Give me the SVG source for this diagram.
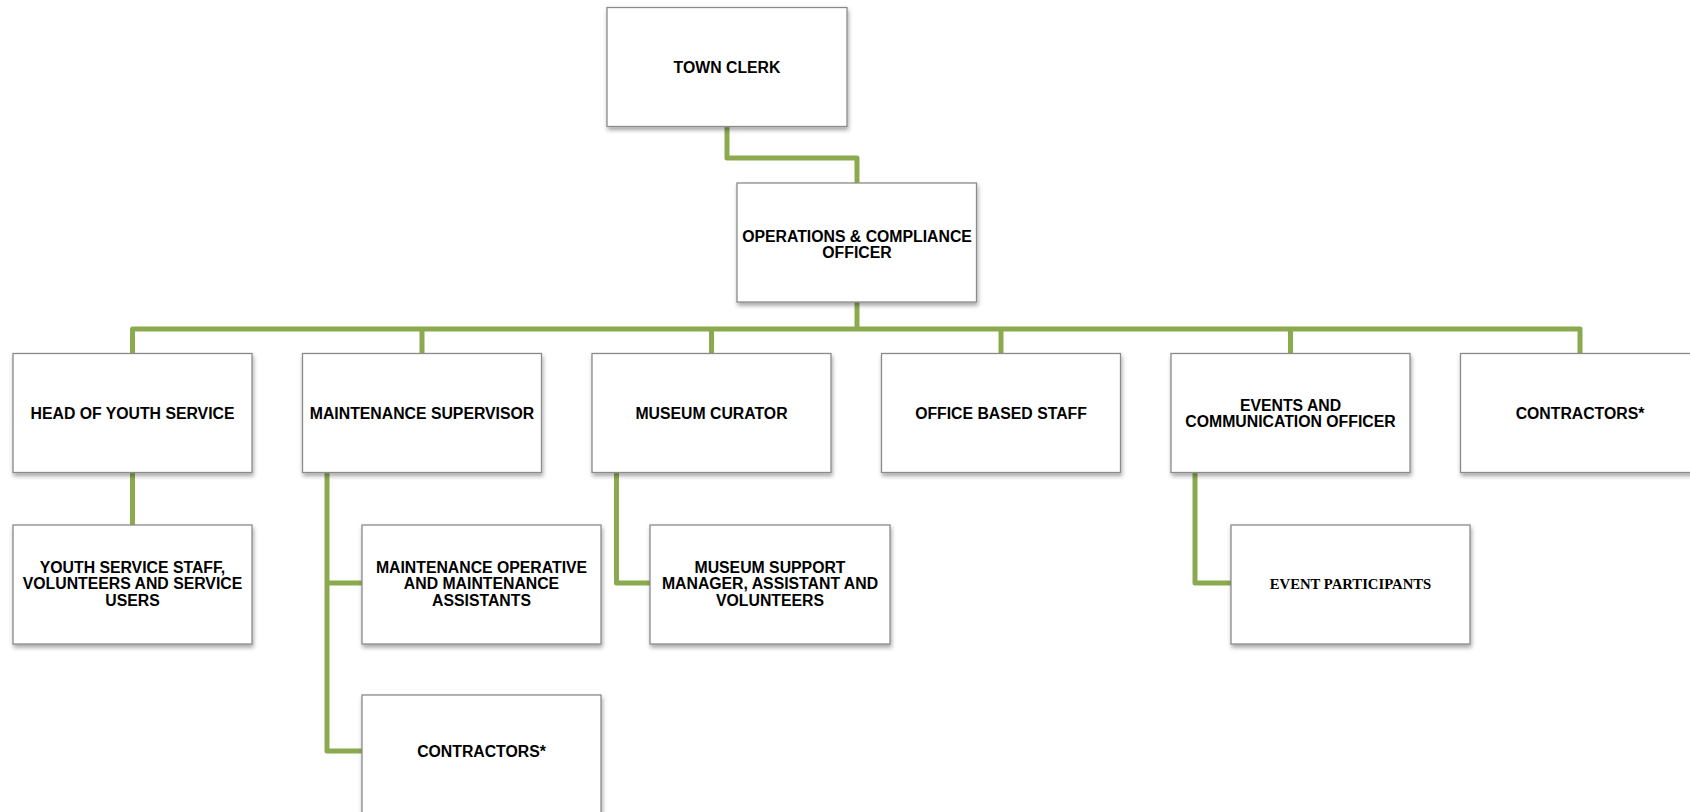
<svg xmlns="http://www.w3.org/2000/svg" width="1690" height="812" viewBox="0 0 1690 812">
<defs>
<filter id="sh" x="-10%" y="-10%" width="125%" height="135%">
<feDropShadow dx="1" dy="3" stdDeviation="2.2" flood-color="#000" flood-opacity="0.35"/>
</filter>
<style>
.box{fill:#fff;stroke:#8a8a8a;stroke-width:1.3;filter:url(#sh)}
.t{font-family:"Liberation Sans",Arial,sans-serif;font-weight:bold;font-size:15.8px;fill:#000;text-anchor:middle;dominant-baseline:central}
.s{font-family:"Liberation Serif","Times New Roman",serif;font-weight:bold;font-size:14.7px;fill:#000;text-anchor:middle;dominant-baseline:central}
.c{fill:none;stroke:#8BAA4F;stroke-width:5;stroke-linejoin:round;stroke-linecap:butt}
</style>
</defs>
<rect width="1690" height="812" fill="#fff"/>
<g id="connectors">
<path class="c" d="M727 126 V158 H857 V183"/>
<path class="c" d="M857 302 V329"/>
<path class="c" d="M132.5 355 V329 H1580 V355"/>
<path class="c" d="M422 329 V355"/>
<path class="c" d="M711.5 329 V355"/>
<path class="c" d="M1001 329 V355"/>
<path class="c" d="M1290.5 329 V355"/>
<path class="c" d="M132.5 472 V526"/>
<path class="c" d="M327 472 V751 H363"/>
<path class="c" d="M327 583 H363"/>
<path class="c" d="M616.5 472 V583 H651"/>
<path class="c" d="M1195 472 V583 H1232"/>
</g>
<g id="town-clerk"><rect class="box" x="607" y="7.5" width="240" height="119"/><text class="t" x="727" y="67">TOWN CLERK</text></g>
<g id="ops-officer"><rect class="box" x="737" y="183" width="239.5" height="119"/><text class="t" x="857" y="236">OPERATIONS &amp; COMPLIANCE</text><text class="t" x="857" y="252.5">OFFICER</text></g>
<g id="head-youth"><rect class="box" x="13" y="353.5" width="239" height="119"/><text class="t" x="132.5" y="413">HEAD OF YOUTH SERVICE</text></g>
<g id="maint-supervisor"><rect class="box" x="302.5" y="353.5" width="239" height="119"/><text class="t" x="422" y="413">MAINTENANCE SUPERVISOR</text></g>
<g id="museum-curator"><rect class="box" x="592" y="353.5" width="239" height="119"/><text class="t" x="711.5" y="413">MUSEUM CURATOR</text></g>
<g id="office-staff"><rect class="box" x="881.5" y="353.5" width="239" height="119"/><text class="t" x="1001" y="413">OFFICE BASED STAFF</text></g>
<g id="events-officer"><rect class="box" x="1171" y="353.5" width="239" height="119"/><text class="t" x="1290.5" y="405">EVENTS AND</text><text class="t" x="1290.5" y="421">COMMUNICATION OFFICER</text></g>
<g id="contractors-top"><rect class="box" x="1460.5" y="353.5" width="239" height="119"/><text class="t" x="1580" y="413">CONTRACTORS*</text></g>
<g id="youth-staff"><rect class="box" x="13" y="525" width="239" height="119"/><text class="t" x="132.5" y="567">YOUTH SERVICE STAFF,</text><text class="t" x="132.5" y="583.5">VOLUNTEERS AND SERVICE</text><text class="t" x="132.5" y="600">USERS</text></g>
<g id="maint-operative"><rect class="box" x="362" y="525" width="239" height="119"/><text class="t" x="481.5" y="567">MAINTENANCE OPERATIVE</text><text class="t" x="481.5" y="583.5">AND MAINTENANCE</text><text class="t" x="481.5" y="600">ASSISTANTS</text></g>
<g id="museum-support"><rect class="box" x="650" y="525" width="240" height="119"/><text class="t" x="770" y="567">MUSEUM SUPPORT</text><text class="t" x="770" y="583.5">MANAGER, ASSISTANT AND</text><text class="t" x="770" y="600">VOLUNTEERS</text></g>
<g id="event-participants"><rect class="box" x="1231" y="525" width="239" height="119"/><text class="s" x="1350.5" y="584">EVENT PARTICIPANTS</text></g>
<g id="contractors-bottom"><rect class="box" x="362" y="695" width="239" height="119"/><text class="t" x="481.5" y="751">CONTRACTORS*</text></g>
</svg>
